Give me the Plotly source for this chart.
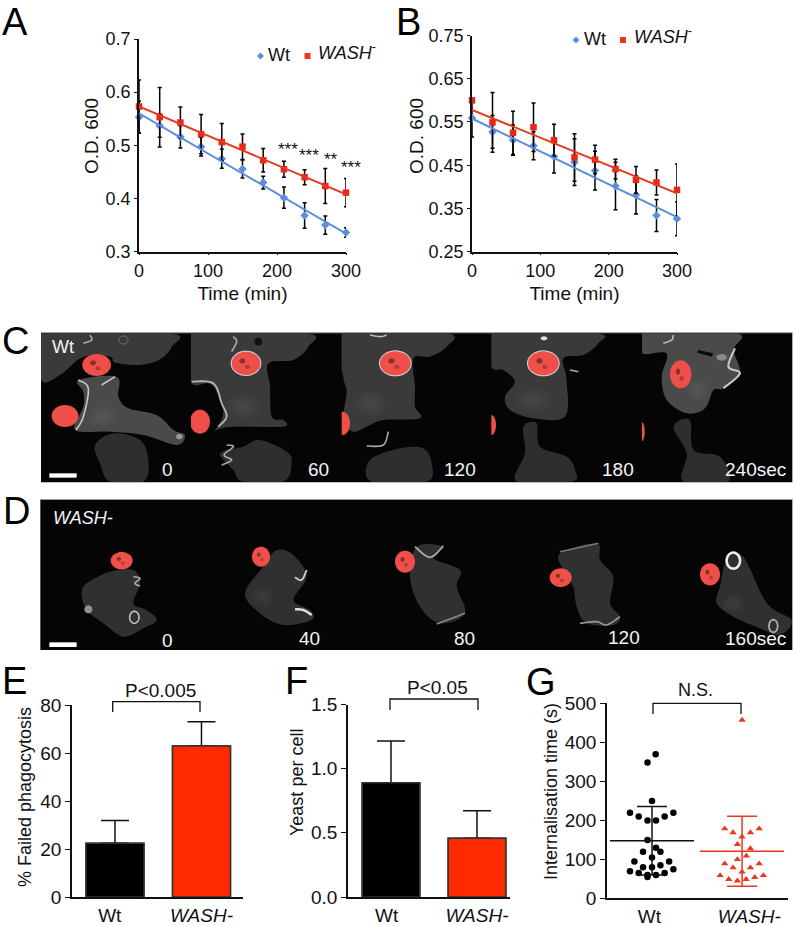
import math
import plotly.graph_objects as go

W, H = 796, 926
FONT = "Liberation Sans"
INK = "#111111"
BLUE = "#5b8fdc"
RED_L = "#e8391f"
RED_M = "#e8261a"

# ---------- data ----------
time_min = [0, 30, 60, 90, 120, 150, 180, 210, 240, 270, 300]
a_wt = [0.553, 0.537, 0.516, 0.4975, 0.475, 0.4555, 0.430, 0.4016, 0.368, 0.350, 0.336]
a_wt_err = [0.030, 0.022, 0.021, 0.0175, 0.018, 0.017, 0.012, 0.020, 0.024, 0.017, 0.009]
a_wash = [0.573, 0.553, 0.543, 0.521, 0.506, 0.4975, 0.472, 0.455, 0.440, 0.4235, 0.411]
a_wash_err = [0.050, 0.056, 0.029, 0.037, 0.035, 0.024, 0.022, 0.015, 0.014, 0.033, 0.0265]
b_wt = [0.559, 0.527, 0.508, 0.495, 0.470, 0.457, 0.4375, 0.402, 0.381, 0.334, 0.326]
b_wt_err = [0.044, 0.038, 0.035, 0.0325, 0.038, 0.054, 0.045, 0.055, 0.044, 0.037, 0.039]
b_wash = [0.600, 0.549, 0.525, 0.538, 0.508, 0.468, 0.463, 0.441, 0.416, 0.410, 0.393]
b_wash_err = [0.0, 0.069, 0.050, 0.056, 0.037, 0.055, 0.033, 0.023, 0.031, 0.029, 0.060]
trend_x = [0, 300]
a_wt_trend = [0.560, 0.334]
a_wash_trend = [0.573, 0.408]
b_wt_trend = [0.558, 0.330]
b_wash_trend = [0.578, 0.385]

groups = ["Wt", "WASH-"]
e_vals = [22.4, 62.9]
e_err = [9.5, 10.1]
f_vals = [0.891, 0.457]
f_err = [0.325, 0.216]

g_wt_jitter = [.04, -.05, 0, -.245, .237, -.148, .14, -.05, .044, -.05, .044, -.1, .093, 0, -.196, .19,
               -.1, 0, .093, -.245, .237, -.148, .14, -.05, .044, -.05]
g_wt = [369, 348, 249, 219, 219, 209, 209, 199, 199, 149, 129, 119, 119, 104, 94, 94,
        79, 79, 84, 69, 74, 64, 64, 59, 59, 54]
g_wt_stats = [147, 88]
g_wash_jitter = [0, -.193, .19, -.1, .093, 0, -.052, .093, .048, -.052, -.193, .19, -.1, .093, 0,
                 -.244, .237, -.148, .14, -.052, .044]
g_wash = [457, 178, 178, 168, 168, 157, 138, 127, 108, 99, 88, 88, 78, 78, 67, 58, 58, 48, 53, 44, 48]
g_wash_stats = [120, 90]

# frame limits of the micrograph rows, in the 3x working coordinates
FRAMES = [(123, 573), (573, 1025), (1025, 1474), (1474, 1926), (1926, 2377)]
ROWS = [(40, 486), (540, 989)]


# ---------- helpers ----------
def px(x):
    return x / W


def py(y):
    return 1 - y / H


def Zx(z):
    return z / 3


def Zy(z):
    return 320 + z / 3


def poly_path(points, closed=True):
    s = "M" + " L".join(f"{px(Zx(a)):.5f},{py(Zy(b)):.5f}" for a, b in points)
    return s + (" Z" if closed else "")


def clamp_to_frame(points):
    mx = sum(p[0] for p in points) / len(points)
    my = sum(p[1] for p in points) / len(points)
    fx = next((f for f in FRAMES if f[0] <= mx < f[1]), FRAMES[-1])
    fy = ROWS[0] if my < 510 else ROWS[1]
    return [(min(max(a, fx[0]), fx[1]), min(max(b, fy[0]), fy[1])) for a, b in points]


def smooth_path(points, closed=True):
    """Catmull-Rom through the points, for organic outlines, kept inside its frame."""
    n = len(points)
    dense = []
    rng = range(n) if closed else range(n - 1)
    for i in rng:
        if closed:
            p0, p1, p2, p3 = (points[(i - 1) % n], points[i], points[(i + 1) % n], points[(i + 2) % n])
        else:
            p0, p1, p2, p3 = (points[max(i - 1, 0)], points[i], points[i + 1], points[min(i + 2, n - 1)])
        for k in range(6):
            t = k / 6
            x = 0.5 * (2 * p1[0] + (p2[0] - p0[0]) * t + (2 * p0[0] - 5 * p1[0] + 4 * p2[0] - p3[0]) * t ** 2
                       + (3 * p1[0] - p0[0] - 3 * p2[0] + p3[0]) * t ** 3)
            y = 0.5 * (2 * p1[1] + (p2[1] - p0[1]) * t + (2 * p0[1] - 5 * p1[1] + 4 * p2[1] - p3[1]) * t ** 2
                       + (3 * p1[1] - p0[1] - 3 * p2[1] + p3[1]) * t ** 3)
            dense.append((x, y))
    if not closed:
        dense.append(points[-1])
    return poly_path(clamp_to_frame(dense), closed)


shapes = []


def add_path(path, fill=None, line=None, lw=0):
    d = dict(type="path", xref="paper", yref="paper", path=path, layer="above")
    d["fillcolor"] = fill if fill else "rgba(0,0,0,0)"
    d["line"] = dict(color=line if line else "rgba(0,0,0,0)", width=lw)
    shapes.append(d)


def cell(points, fill="#3f3f3f"):
    add_path(smooth_path(points), fill=fill)


def bright(points, color="#c8c8c8", lw=1.6):
    add_path(smooth_path(points, closed=False), line=color, lw=lw)


def ellipse(cx, cy, rx, ry, fill=None, line=None, lw=0, clipx=None):
    pts = []
    for i in range(40):
        a = 2 * math.pi * i / 40
        x = cx + rx * math.cos(a)
        if clipx is not None:
            x = max(x, clipx)
        pts.append((x, cy + ry * math.sin(a)))
    add_path(poly_path(pts), fill=fill, line=line, lw=lw)


def glow(cx, cy, rx, ry):
    for f in (1.0, .85, .7, .55, .4):
        ellipse(cx, cy, rx * f, ry * f, fill="rgba(255,255,255,0.012)")


def yeast(cx, cy, rx, ry, ring=False, spots=True, clipx=None):
    if ring:
        ellipse(cx, cy, rx + 3, ry + 3, fill="#d6d6d6")
    ellipse(cx, cy, rx, ry, fill="#ee4f49", clipx=clipx)
    if spots and clipx is None:
        ellipse(cx - rx * .25, cy - ry * .2, rx * .2, ry * .22, fill="#8c2f2c")
        ellipse(cx + rx * .1, cy + ry * .3, rx * .18, ry * .18, fill="#b43c38")


def rect_z(x0, y0, x1, y1, fill):
    shapes.append(dict(type="rect", xref="paper", yref="paper", layer="above",
                       x0=px(Zx(x0)), x1=px(Zx(x1)), y0=py(Zy(y1)), y1=py(Zy(y0)),
                       fillcolor=fill, line=dict(width=0)))


def bracket(x0, x1, top, bottom):
    shapes.append(dict(type="path", xref="paper", yref="paper", layer="above",
                       path=f"M{px(x0):.5f},{py(bottom):.5f} L{px(x0):.5f},{py(top):.5f} "
                            f"L{px(x1):.5f},{py(top):.5f} L{px(x1):.5f},{py(bottom):.5f}",
                       line=dict(color=INK, width=1.3)))


annotations = []


def text(x, y, s, size=18, color=INK, anchor="center", angle=0):
    annotations.append(dict(x=px(x), y=py(y), xref="paper", yref="paper", text=s, showarrow=False,
                            xanchor=anchor, yanchor="middle", textangle=angle,
                            font=dict(family=FONT, size=size, color=color)))


fig = go.Figure()


def axis_common(domain_px, horizontal=True, tick_size=19):
    size = W if horizontal else H
    if horizontal:
        dom = [domain_px[0] / size, domain_px[1] / size]
    else:
        dom = [1 - domain_px[1] / size, 1 - domain_px[0] / size]
    return dict(domain=dom, showgrid=False, zeroline=False, showline=True, linecolor=INK, linewidth=1.5,
                tickcolor=INK, tickwidth=1.2, ticks="outside", automargin=False,
                tickfont=dict(family=FONT, size=tick_size, color=INK), layer="above traces")


layout = {}


def line_panel(idx, xpx, ypx, yr, yticks, wt, wt_err, wash, wash_err, wt_trend, wash_trend, tick_size):
    xa, ya = f"x{idx}", f"y{idx}"
    for vals, err, col, sym, size, name in (
        (wt, wt_err, BLUE, "diamond", 6.5, "Wt"),
        (wash, wash_err, RED_M, "square", 6.5, "WASH-"),
    ):
        fig.add_trace(go.Scatter(x=time_min, y=vals, mode="markers", name=name, xaxis=xa, yaxis=ya,
                                 marker=dict(color=col, symbol=sym, size=size), cliponaxis=False,
                                 error_y=dict(type="data", array=err, color="#000000", thickness=1.5, width=2)))
    fig.add_trace(go.Scatter(x=trend_x, y=wt_trend, mode="lines", xaxis=xa, yaxis=ya,
                             line=dict(color=BLUE, width=2), cliponaxis=False))
    fig.add_trace(go.Scatter(x=trend_x, y=wash_trend, mode="lines", xaxis=xa, yaxis=ya,
                             line=dict(color=RED_L, width=2), cliponaxis=False))
    ax = axis_common(xpx, True, tick_size)
    ax.update(range=[0, 300], tickvals=[0, 100, 200, 300], ticklen=2, anchor=ya,
              title=dict(text="Time (min)", font=dict(family=FONT, size=19, color=INK), standoff=7))
    ay = axis_common(ypx, False, tick_size)
    ay.update(range=yr, tickvals=yticks, ticklen=3, anchor=xa, tickformat=".2f" if idx == 2 else ".1f")
    layout[f"xaxis{'' if idx == 1 else idx}"] = ax
    layout[f"yaxis{'' if idx == 1 else idx}"] = ay


line_panel(1, (139, 346), (39, 251.7), [0.3, 0.7], [0.3, 0.4, 0.5, 0.6, 0.7],
           a_wt, a_wt_err, a_wash, a_wash_err, a_wt_trend, a_wash_trend, 18)
line_panel(2, (472, 677), (35.5, 251.7), [0.25, 0.75], [0.25, 0.35, 0.45, 0.55, 0.65, 0.75],
           b_wt, b_wt_err, b_wash, b_wash_err, b_wt_trend, b_wash_trend, 18)


def bar_panel(idx, xpx, ypx, xr, yr, yticks, vals, err, tickf, labelx):
    xa, ya = f"x{idx}", f"y{idx}"
    fig.add_trace(go.Bar(x=[0, 1], y=vals, width=0.67, xaxis=xa, yaxis=ya,
                         marker=dict(color=["#000000", "#ff2a00"], line=dict(color="#333333", width=1.5)),
                         error_y=dict(type="data", array=err, symmetric=False, arrayminus=[0, 0],
                                      color="#111111", thickness=1.5, width=14)))
    # same bars again, on top, so that the lower cap of each error bar stays hidden
    fig.add_trace(go.Bar(x=[0, 1], y=vals, width=0.67, xaxis=xa, yaxis=ya,
                         marker=dict(color=["#000000", "#ff2a00"], line=dict(color="#333333", width=1.5))))
    ax = axis_common(xpx, True)
    ax.update(range=xr, tickvals=labelx, ticktext=["Wt", "<i>WASH-</i>"], ticks="", anchor=ya)
    ay = axis_common(ypx, False)
    ay.update(range=yr, tickvals=yticks, ticklen=5, anchor=xa, tickformat=tickf)
    layout[f"xaxis{idx}"] = ax
    layout[f"yaxis{idx}"] = ay


bar_panel(3, (72, 243), (705, 897), [-0.497, 1.48], [0, 80], [0, 20, 40, 60, 80], e_vals, e_err,
          "d", [-0.06, 1.0])
bar_panel(4, (348, 510), (704.5, 897), [-0.5, 1.384], [0, 1.5], [0, 0.5, 1.0, 1.5], f_vals, f_err,
          ".1f", [-0.05, 1.0])

# Panel G
fig.add_trace(go.Scatter(x=g_wt_jitter, y=g_wt, mode="markers", xaxis="x5", yaxis="y5", cliponaxis=False,
                         marker=dict(color="#000000", symbol="circle", size=6.5)))
fig.add_trace(go.Scatter(x=[1 + j for j in g_wash_jitter], y=g_wash, mode="markers", xaxis="x5", yaxis="y5",
                         cliponaxis=False, marker=dict(color=RED_L, symbol="triangle-up", size=6.5)))
for i, (stats, col) in enumerate(((g_wt_stats, "#111111"), (g_wash_stats, RED_L))):
    fig.add_trace(go.Scatter(x=[i], y=[stats[0]], mode="markers", xaxis="x5", yaxis="y5",
                             marker=dict(color=col, symbol="line-ew", size=60,
                                         line=dict(color=col, width=1.5)),
                             error_y=dict(type="data", array=[stats[1]], color=col, thickness=1.5, width=15)))
ax = axis_common((607, 788), True)
ax.update(range=[-0.5, 1.51], tickvals=[-0.03, 1.08], ticktext=["Wt", "<i>WASH-</i>"], ticks="", anchor="y5")
ay = axis_common((703.3, 898), False)
ay.update(range=[0, 500], tickvals=[0, 100, 200, 300, 400, 500], ticklen=5, anchor="x5")
layout["xaxis5"] = ax
layout["yaxis5"] = ay

# y axis titles
text(92, 136, "O.D. 600", size=19, angle=-90)
text(417, 136, "O.D. 600", size=19, angle=-90)
text(25, 797, "% Failed phagocytosis", size=18, angle=-90)
text(297, 783, "Yeast per cell", size=18, angle=-90)
text(551, 792, "Internalisation time (s)", size=18, angle=-90)

# ---------- legends of A and B ----------
for lx_d, lx_s, ly in ((260.5, 307.5, 56), (576, 623, 40)):
    shapes.append(dict(type="path", xref="paper", yref="paper", layer="above",
                       path=f"M{px(lx_d-3.5):.5f},{py(ly):.5f} L{px(lx_d):.5f},{py(ly-3.5):.5f} "
                            f"L{px(lx_d+3.5):.5f},{py(ly):.5f} L{px(lx_d):.5f},{py(ly+3.5):.5f} Z",
                       fillcolor=BLUE, line=dict(width=0)))
    shapes.append(dict(type="rect", xref="paper", yref="paper", layer="above",
                       x0=px(lx_s - 3), x1=px(lx_s + 3), y0=py(ly + 3), y1=py(ly - 3),
                       fillcolor=RED_L, line=dict(width=0)))
    text(lx_d + 5.5, ly - 1.5, "Wt", size=18, anchor="left")
    text(lx_s + 8.5, ly - 4.5, "<i>WASH</i><sup>-</sup>", size=18, anchor="left")

# stars of A
for sx, sy, s in ((287.5, 150, "***"), (309, 155.5, "***"), (331, 159.5, "**"), (350.5, 167, "***")):
    text(sx, sy, s, size=17)

# panel letters
for x, y, s in ((0, 22, "A"), (394, 22, "B"), (0, 341, "C"), (1, 511, "D"), (0, 681, "E"), (283, 681, "F"),
                (524, 682, "G")):
    text(x, y, s, size=38, color="#000000", anchor="left")

# brackets
bracket(112.7, 200, 701.7, 712)
bracket(390, 478, 699, 710)
bracket(653, 741, 703.3, 714)
text(160, 690, "P&lt;0.005", size=19)
text(437, 687, "P&lt;0.05", size=19)
text(695, 690, "N.S.", size=18)

# ---------- micrographs C and D (drawn in a 3x coordinate system) ----------
rect_z(123, 38, 2377, 487, "#050505")
rect_z(121, 538, 2377, 990, "#050505")
rect_z(123, 37, 2377, 40, "#9a9a9a")
rect_z(121, 537, 2377, 540, "#9a9a9a")

G1, G2, G3 = "#3a3a3a", "#4a4a4a", "#2e2e2e"
D_CELL = "#303030"

# C frame 1
cell([(123, 40), (510, 40), (515, 80), (480, 118), (420, 135), (345, 128), (330, 110), (250, 110), (180, 165),
      (123, 180)], G1)
cell([(235, 180), (350, 170), (355, 230), (385, 265), (470, 285), (520, 330), (555, 345), (530, 375), (430, 345),
      (330, 335), (225, 330), (250, 260), (250, 215)], G2)
cell([(285, 375), (340, 340), (420, 360), (445, 420), (430, 485), (330, 485), (300, 430)], G3)
glow(310, 290, 45, 35)
bright([(235, 180), (265, 205), (250, 290), (228, 330)])
bright([(305, 195), (345, 170)])
bright([(250, 70), (275, 60), (270, 45)], "#aaaaaa")
ellipse(370, 60, 14, 12, line="#777777", lw=1)
yeast(290, 135, 43, 33)
yeast(195, 288, 40, 33, spots=False)
ellipse(538, 350, 10, 8, fill="#999999")
rect_z(148, 460, 230, 473, "#ffffff")

# C frame 2
cell([(573, 40), (920, 40), (925, 80), (880, 120), (805, 130), (810, 200), (815, 290), (850, 300), (850, 320),
      (700, 320), (650, 330), (640, 340), (670, 280), (650, 215), (625, 190), (573, 185)], G1)
cell([(660, 400), (730, 380), (780, 360), (860, 395), (875, 430), (850, 485), (730, 485), (700, 450)], G3)
glow(730, 260, 55, 40)
bright([(575, 185), (640, 190), (665, 250), (680, 290), (655, 320)], "#b8b8b8", 1.8)
bright([(680, 375), (700, 380), (672, 405), (695, 420), (665, 435)], "#aaaaaa")
bright([(700, 50), (710, 65), (695, 95)], "#aaaaaa")
yeast(738, 130, 43, 35, ring=True)
yeast(600, 305, 30, 36, spots=False, clipx=573)
ellipse(775, 65, 12, 12, fill="#111111")

# C frame 3
cell([(1025, 40), (1340, 40), (1340, 80), (1290, 110), (1240, 115), (1245, 200), (1245, 260), (1260, 295),
      (1150, 300), (1100, 320), (1060, 335), (1030, 300), (1040, 215), (1030, 170)], G1)
cell([(1110, 420), (1200, 385), (1270, 385), (1295, 430), (1280, 485), (1115, 485)], G3)
glow(1110, 250, 50, 40)
bright([(1100, 378), (1150, 375), (1165, 335)], "#aaaaaa")
bright([(1110, 45), (1140, 50), (1160, 45)], "#bbbbbb")
yeast(1186, 130, 46, 36, ring=True)
yeast(1028, 310, 22, 35, spots=False, clipx=1025)

# C frame 4
cell([(1474, 40), (1790, 40), (1795, 70), (1750, 105), (1690, 115), (1700, 180), (1695, 290), (1600, 295),
      (1530, 270), (1515, 230), (1545, 185), (1510, 150), (1474, 140)], G1)
cell([(1570, 320), (1610, 310), (1620, 380), (1700, 410), (1725, 450), (1715, 485), (1550, 485), (1575, 400)], G3)
glow(1600, 240, 55, 40)
yeast(1630, 130, 46, 36, ring=True)
yeast(1474, 315, 14, 30, spots=False, clipx=1474)
ellipse(1632, 55, 10, 6, fill="#dddddd")
bright([(1710, 150), (1735, 155)], "#aaaaaa")

# C frame 5
cell([(1926, 40), (2210, 40), (2200, 90), (2220, 160), (2170, 205), (2140, 210), (2115, 265), (2060, 280),
      (2000, 240), (1985, 170), (2000, 100), (1926, 100)], G2)
cell([(2020, 320), (2070, 300), (2080, 390), (2160, 410), (2185, 485), (2050, 485), (2060, 400)], G3)
glow(2090, 210, 40, 35)
bright([(2205, 85), (2185, 140), (2220, 160), (2170, 205)], "#c8c8c8", 2)
bright([(1990, 70), (2015, 60), (2020, 45)], "#bbbbbb")
ellipse(2165, 112, 16, 10, fill="#888888")
add_path(poly_path([(2095, 90), (2140, 100), (2135, 110), (2092, 98)]), fill="#0a0a0a")
yeast(2042, 163, 32, 42)
yeast(1926, 335, 8, 28, spots=False, clipx=1926)

# D frame 1
cell([(260, 790), (330, 755), (400, 750), (420, 790), (400, 850), (440, 870), (470, 900), (430, 925), (370, 950),
      (310, 910), (260, 870), (245, 820)], D_CELL)
bright([(400, 770), (420, 775), (405, 790), (420, 798)], "#aaaaaa")
ellipse(403, 892, 14, 18, line="#c0c0c0", lw=1.6)
ellipse(265, 868, 12, 12, fill="#909090")
yeast(365, 722, 33, 26)
rect_z(148, 967, 230, 981, "#ffffff")

# D frame 2
cell([(735, 820), (790, 740), (830, 690), (880, 705), (920, 770), (880, 840), (930, 870), (935, 900), (850, 915),
      (780, 880)], D_CELL)
glow(790, 830, 35, 30)
bright([(885, 772), (905, 780), (920, 750)], "#d0d0d0", 1.8)
bright([(885, 868), (910, 870), (935, 885)], "#e0e0e0", 2.5)
yeast(783, 710, 27, 30)

# D frame 3
cell([(1230, 770), (1250, 680), (1330, 680), (1300, 715), (1380, 750), (1370, 800), (1395, 880), (1320, 910),
      (1260, 860)], D_CELL)
bright([(1245, 680), (1290, 712), (1330, 678)], "#aaaaaa", 1.8)
bright([(1310, 912), (1395, 880)], "#8a8a8a")
yeast(1215, 725, 30, 33, ring=False)

# D frame 4
cell([(1680, 700), (1790, 670), (1800, 720), (1840, 770), (1830, 850), (1860, 890), (1840, 915), (1760, 910),
      (1730, 860), (1720, 800), (1690, 750)], D_CELL)
bright([(1680, 695), (1795, 670)], "#777777")
bright([(1740, 910), (1790, 905), (1820, 915), (1860, 890)], "#999999")
yeast(1682, 773, 33, 28)

# D frame 5
cell([(2180, 720), (2230, 710), (2300, 850), (2375, 900), (2340, 945), (2280, 925), (2200, 890), (2150, 850),
      (2160, 800)], D_CELL)
glow(2200, 850, 35, 30)
ellipse(2200, 722, 20, 24, line="#eeeeee", lw=2.6)
ellipse(2320, 918, 13, 19, line="#aaaaaa", lw=1.8)
yeast(2130, 763, 30, 33)

# labels in micrographs
WHITE = "#f4f4f4"
text(49.5, 346.5, "Wt", size=18, color=WHITE, anchor="left")
text(50.5, 518, "<i>WASH-</i>", size=18, color=WHITE, anchor="left")
for x, y, s in ((174.5, 469.5, "0"), (331, 469.5, "60"), (478, 469.5, "120"), (636, 469.5, "180"),
                (788, 469.5, "240sec"), (174.5, 640, "0"), (322, 638, "40"), (477, 638, "80"),
                (642, 637, "120"), (788, 638, "160sec")):
    text(x, y, s, size=19, color=WHITE, anchor="right")

fig.update_layout(width=W, height=H, margin=dict(l=0, r=0, t=0, b=0, autoexpand=False), showlegend=False,
                  paper_bgcolor="#ffffff", plot_bgcolor="rgba(0,0,0,0)", barmode="overlay",
                  font=dict(family=FONT, color=INK), shapes=shapes, annotations=annotations, **layout)

fig.write_html("out.html", config=dict(displayModeBar=False),
               post_script="document.body.style.margin='0';document.body.style.overflow='hidden';")
